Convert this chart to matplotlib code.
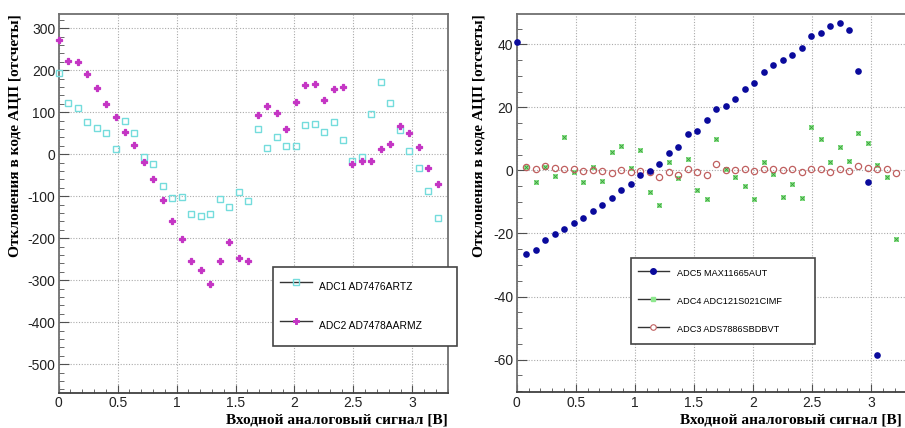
import matplotlib
matplotlib.use("Agg")
import matplotlib.pyplot as plt
from matplotlib.lines import Line2D
from matplotlib.ticker import MultipleLocator, FormatStrFormatter

# input voltage [V], one step per measurement
voltage = [0.000, 0.080, 0.161, 0.241, 0.322, 0.402, 0.482, 0.563, 0.643, 0.724,
           0.804, 0.884, 0.965, 1.045, 1.126, 1.206, 1.286, 1.367, 1.447, 1.528,
           1.608, 1.688, 1.769, 1.849, 1.930, 2.010, 2.090, 2.171, 2.251, 2.332,
           2.412, 2.492, 2.573, 2.653, 2.734, 2.814, 2.894, 2.975, 3.055, 3.136,
           3.216]

# left panel: ADC1 / ADC2 deviations (counts)
adc1 = [193, 123, 109, 76, 62, 50, 13, 80, 50, -6,
        -23, -76, -105, -103, -143, -148, -143, -107, -126, -91,
        -112, 60, 14, 40, 19, 19, 70, 73, 54, 76,
        34, -16, -6, 96, 171, 121, 57, 7, -32, -87,
        -151]
adc2 = [271, 221, 219, 192, 157, 119, 88, 52, 23, -19,
        -60, -109, -158, -203, -255, -276, -308, -254, -210, -248,
        -255, 93, 114, 99, 61, 125, 164, 168, 130, 155,
        159, -23, -16, -17, 12, 25, 67, 50, 18, -32,
        -70]

# right panel: ADC5 starts at 0 V (39 points), ADC4/ADC3 start at second step
adc5 = [40.6, -26.4, -25.1, -22.2, -20.3, -18.6, -16.8, -15.2, -13.0, -10.9,
        -8.8, -6.3, -4.4, -1.5, -0.1, 2.0, 5.5, 7.4, 11.5, 12.6,
        16.0, 19.5, 20.4, 22.8, 25.7, 27.7, 31.3, 33.3, 35.0, 36.6,
        38.9, 42.6, 43.6, 45.8, 46.6, 44.6, 31.5, -3.6, -58.6]
adc4 = [1.2, -3.6, 1.2, -1.7, 10.7, -0.5, -3.6, 1.1, -3.3, 5.7,
        7.7, 0.8, 6.6, -7.0, -10.9, 2.6, -2.5, 3.6, -6.3, -9.0,
        10.1, 0.3, -2.1, -4.8, -9.0, 2.8, -1.1, -8.5, -4.3, -8.7,
        13.8, 10.1, 2.8, 7.3, 2.9, 11.9, 8.6, 1.6, -2.2, -21.6]
adc3 = [1.2, 0.3, 1.5, 0.8, 0.3, 0.6, -0.2, 0.0, -0.2, -0.8,
        0.1, -0.5, -0.1, -0.4, -2.1, -0.5, -1.4, 0.3, -0.6, -1.4,
        2.0, 0.0, 0.1, 0.3, -0.3, 0.6, 0.4, 0.1, 0.3, -0.5,
        0.3, 0.3, -0.5, 0.6, -0.3, 1.5, 0.7, 0.3, 0.3, -0.7]

labels_left = ["ADC1 AD7476ARTZ", "ADC2 AD7478AARMZ"]
labels_right = ["ADC5 MAX11665AUT", "ADC4 ADC121S021CIMF", "ADC3 ADS7886SBDBVT"]

ylabel = "Отклонения в коде АЦП [отсчеты]"
xlabel = "Входной аналоговый сигнал [В]"

plt.rcParams['font.family'] = ['Liberation Sans', 'DejaVu Sans']
plt.rcParams['axes.unicode_minus'] = False
title_font = dict(family=['Liberation Serif', 'DejaVu Serif'], weight='bold', size=11.1)

W, H = 905, 428
fig = plt.figure(figsize=(W / 100, H / 100), dpi=100)
fig.patch.set_facecolor('white')


def px_axes(x0, y0, x1, y1):
    return fig.add_axes([x0 / W, 1 - y1 / H, (x1 - x0) / W, (y1 - y0) / H])


def style_axes(ax, ymajor, yminor):
    ax.xaxis.set_major_locator(MultipleLocator(0.5))
    ax.xaxis.set_minor_locator(MultipleLocator(0.1))
    ax.xaxis.set_major_formatter(FormatStrFormatter('%g'))
    ax.yaxis.set_major_locator(MultipleLocator(ymajor))
    ax.yaxis.set_minor_locator(MultipleLocator(yminor))
    ax.yaxis.set_major_formatter(FormatStrFormatter('%g'))
    ax.grid(True, which='major', linestyle=(0, (1, 1.5)), color='#aaaaaa', linewidth=0.8)
    ax.set_axisbelow(True)
    for s in ax.spines.values():
        s.set_color('#707070')
        s.set_linewidth(1.3)
    ax.spines['bottom'].set_color('#404040')
    ax.tick_params(which='both', direction='in', colors='#505050', labelcolor='#222222',
                   labelsize=10, top=False, right=False)
    ax.tick_params(axis='y', which='major', length=7, pad=2.5)
    ax.tick_params(axis='y', which='minor', length=3.5)
    ax.tick_params(axis='x', which='major', length=6, pad=2.5)
    ax.tick_params(axis='x', which='minor', length=3)


def make_legend(handles, labels, box, fs, hh, ls, hl, htp, bp):
    x0, y0, x1, y1 = box
    leg = fig.legend(handles, labels, loc='upper left',
                     bbox_to_anchor=(x0 / W, 1 - y1 / H, (x1 - x0) / W, (y1 - y0) / H),
                     bbox_transform=fig.transFigure, mode='expand', borderaxespad=0,
                     fontsize=fs, borderpad=bp, handlelength=hl, handletextpad=htp,
                     handleheight=hh, labelspacing=ls, fancybox=False,
                     edgecolor='#444444', framealpha=1)
    leg.get_frame().set_linewidth(1.2)
    return leg


# ---------------- left panel ----------------
ax1 = px_axes(58.7, 14, 447.7, 392.7)
ax1.set_xlim(0, 3.3)
ax1.set_ylim(-568, 334)
style_axes(ax1, 100, 20)

ax1.plot(voltage, adc1, linestyle='none', marker='s', markersize=5, markerfacecolor='none',
         markeredgecolor='#74dcdc', markeredgewidth=1.0, clip_on=False, zorder=3)
ax1.plot(voltage, adc2, linestyle='none', marker='P', markersize=4.6, color='#c435c4',
         markeredgewidth=0.9, clip_on=False, zorder=4)

ax1.set_xlabel(xlabel, fontdict=title_font, ha='right', va='center')
ax1.xaxis.set_label_coords(1.0, (392.7 - 420) / 378.7)
ax1.set_ylabel(ylabel, fontdict=title_font, ha='right', va='center')
ax1.yaxis.set_label_coords((15.5 - 58.7) / 389, 1.0)

h_left = [
    Line2D([], [], color='#333333', linewidth=1, marker='s', markersize=4,
           markerfacecolor='none', markeredgecolor='#74dcdc'),
    Line2D([], [], color='#333333', linewidth=1, marker='P', markersize=4,
           markerfacecolor='#c435c4', markeredgecolor='#c435c4', markeredgewidth=0.7),
]
make_legend(h_left, labels_left, (273, 266.7, 457, 366), 7.4, 3.5, 1.36, 3.1, 0.7, 0.68)

# ---------------- right panel ----------------
ax2 = px_axes(516.7, 14, 906.4, 392.4)
ax2.set_xlim(0, 3.3)
ax2.set_ylim(-70.4, 49.6)
style_axes(ax2, 20, 5)

ax2.plot(voltage[1:], adc4, linestyle='none', marker='s', markersize=3.6, color='#8ee88e',
         markeredgewidth=0, clip_on=False, zorder=3)
ax2.plot(voltage[1:], adc4, linestyle='none', marker='x', markersize=2.2, color='#3c9a3c',
         markeredgewidth=0.6, clip_on=False, zorder=3)
ax2.plot(voltage[1:], adc3, linestyle='none', marker='o', markersize=4.5, markerfacecolor='none',
         markeredgecolor='#c06060', markeredgewidth=0.9, clip_on=False, zorder=4)
ax2.plot(voltage[:len(adc5)], adc5, linestyle='none', marker='o', markersize=4.8, color='#0a0a9c',
         markeredgewidth=0, clip_on=False, zorder=5)

ax2.set_xlabel(xlabel, fontdict=title_font, ha='right', va='center')
ax2.xaxis.set_label_coords((901.7 - 516.7) / 389.7, (392.4 - 420) / 378.4)
ax2.set_ylabel(ylabel, fontdict=title_font, ha='right', va='center')
ax2.yaxis.set_label_coords((479.5 - 516.7) / 389.7, 1.0)

h_right = [
    Line2D([], [], color='#333333', linewidth=1, marker='o', markersize=4,
           markerfacecolor='#0a0a9c', markeredgecolor='#0a0a9c'),
    Line2D([], [], color='#333333', linewidth=1, marker='s', markersize=3,
           markerfacecolor='#8ee88e', markeredgecolor='#8ee88e'),
    Line2D([], [], color='#333333', linewidth=1, marker='o', markersize=4,
           markerfacecolor='white', markeredgecolor='#c06060', markeredgewidth=0.8),
]
make_legend(h_right, labels_right, (630.7, 258.3, 815, 357.7), 6.6, 2.18, 1.42, 3.45, 0.8, 0.76)

fig.savefig('out.png', dpi=100, facecolor='white')
